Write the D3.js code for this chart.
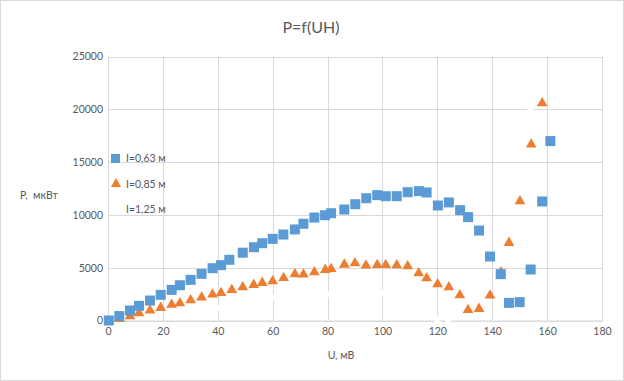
<!DOCTYPE html>
<html><head><meta charset="utf-8">
<script src="https://cdn.jsdelivr.net/npm/d3@7"></script>
<style>
html,body{margin:0;padding:0;background:#fff;}
svg text{font-family:Lato,"Open Sans",sans-serif;fill:#595959;}
</style></head>
<body><svg id="c" width="624" height="381"></svg>
<script>
const title = "P=f(UH)";
const xTitle = "U, мВ";
const yTitle = "P,  мкВт";
const seriesNames = ["I=0,63 м", "I=0,85 м", "I=1,25 м"];
const xTicks = [0,20,40,60,80,100,120,140,160,180];
const yTicks = [0,5000,10000,15000,20000,25000];

const u1 = [0.3,4.1,8.0,11.3,15.3,19.2,23.2,26.2,30.1,34.1,38.1,41.2,44.2,49.1,53.2,56.2,60.0,63.9,68.1,71.2,75.2,79.1,81.3,86.1,90.1,94.1,98.1,101.2,105.2,109.2,113.3,116.1,120.2,124.2,128.3,131.2,135.2,139.2,143.1,146.1,150.0,154.0,158.2,161.2];
const p1 = [0,420,950,1390,1890,2430,2900,3340,3850,4420,4950,5240,5750,6420,6940,7320,7730,8140,8620,9160,9750,9970,10160,10510,11010,11580,11870,11770,11770,12150,12250,12120,10890,11180,10450,9790,8520,6060,4390,1670,1740,4830,11270,16990];

const u2 = [4.1,8.0,11.3,15.3,19.2,23.2,26.2,30.1,34.1,38.1,41.2,45.1,49.1,53.1,56.2,60.0,64.0,68.1,71.2,75.2,79.2,81.3,86.1,90.0,94.0,98.1,101.2,105.2,109.2,113.2,116.1,120.1,124.2,128.2,131.2,135.2,139.2,143.2,146.1,150.1,154.2,158.2];
const p2 = [160,410,690,950,1200,1490,1640,1920,2180,2460,2620,2900,3150,3380,3570,3720,4040,4380,4360,4580,4800,4890,5300,5430,5210,5270,5270,5240,5140,4480,4010,3440,3150,2400,1010,1110,2370,4570,7360,11300,16670,20580];

const u3 = [40.1,60.0,80.0,100.1,120.0,124.0,140.0,153.8];
const p3 = [1200,2200,2500,2600,100,0,6300,19980];

const svg = d3.select("#c");
const W = 624, H = 381;
svg.append("rect").attr("x",0.5).attr("y",0.5).attr("width",W-1).attr("height",H-1)
  .attr("fill","#fff").attr("stroke","#d9d9d9");

const L = 108, R = 602, T = 56.5, B = 320.5;
const x = d3.scaleLinear().domain([0,180]).range([L,R]);
const y = d3.scaleLinear().domain([0,25000]).range([B,T]);

// gridlines
const g = svg.append("g");
g.selectAll("line.h").data(yTicks).join("line")
  .attr("x1",L).attr("x2",R).attr("y1",d=>Math.round(y(d))+0.5).attr("y2",d=>Math.round(y(d))+0.5)
  .attr("stroke","#d9d9d9").attr("stroke-width",1);
g.selectAll("line.v").data(xTicks).join("line")
  .attr("y1",T).attr("y2",B).attr("x1",d=>Math.round(x(d))+0.5).attr("x2",d=>Math.round(x(d))+0.5)
  .attr("stroke","#d9d9d9").attr("stroke-width",1);

// axes (labels only)
const xa = svg.append("g").attr("transform",`translate(0,${B})`)
  .call(d3.axisBottom(x).tickValues(xTicks).tickSize(0).tickPadding(7).tickFormat(d3.format("d")));
xa.select(".domain").attr("stroke","#d9d9d9");
xa.selectAll("text").attr("font-size","10.5px").attr("fill","#595959").attr("font-family","Lato");
const ya = svg.append("g").attr("transform",`translate(${L},0)`)
  .call(d3.axisLeft(y).tickValues(yTicks).tickSize(0).tickPadding(5).tickFormat(d3.format("d")));
ya.select(".domain").remove();
ya.selectAll("text").attr("font-size","10.5px").attr("fill","#595959").attr("font-family","Lato");

// series 3 (white markers)
const d3s = u3.map((u,i)=>({u,p:p3[i]}));
svg.append("g").selectAll("rect").data(d3s).join("rect")
  .attr("x",d=>x(d.u)-3).attr("y",d=>y(d.p)-3).attr("width",6).attr("height",6).attr("fill","#fff");

// series 2 triangles
const d2 = u2.map((u,i)=>({u,p:p2[i]}));
const tri = d3.symbol().type(d3.symbolTriangle).size(50);
svg.append("g").selectAll("path").data(d2).join("path")
  .attr("d",tri).attr("transform",d=>`translate(${x(d.u)},${y(d.p)})`).attr("fill","#ED7D31");

// series 1 squares
const d1 = u1.map((u,i)=>({u,p:p1[i]}));
svg.append("g").selectAll("rect").data(d1).join("rect")
  .attr("x",d=>x(d.u)-5).attr("y",d=>y(d.p)-5).attr("width",10).attr("height",10).attr("fill","#5B9BD5");

// title
svg.append("text").attr("x",311).attr("y",33).attr("text-anchor","middle").attr("font-size","16px").text(title);
svg.append("text").attr("x",341).attr("y",359).attr("text-anchor","middle").attr("font-size","10.5px").text(xTitle);
svg.append("text").attr("x",20).attr("y",199).attr("font-size","10.5px").attr("xml:space","preserve").style("white-space","pre").text(yTitle);

// legend
const lg = svg.append("g");
const ly = [158,184,209];
lg.append("rect").attr("x",111).attr("y",ly[0]-4).attr("width",9).attr("height",9).attr("fill","#5B9BD5");
lg.append("path").attr("d",d3.symbol().type(d3.symbolTriangle).size(45)).attr("transform",`translate(116,${ly[1]})`).attr("fill","#ED7D31");
lg.selectAll("text").data(seriesNames).join("text")
  .attr("x",126).attr("y",(d,i)=>ly[i]+4).attr("font-size","10.5px").text(d=>d);
</script></body></html>
